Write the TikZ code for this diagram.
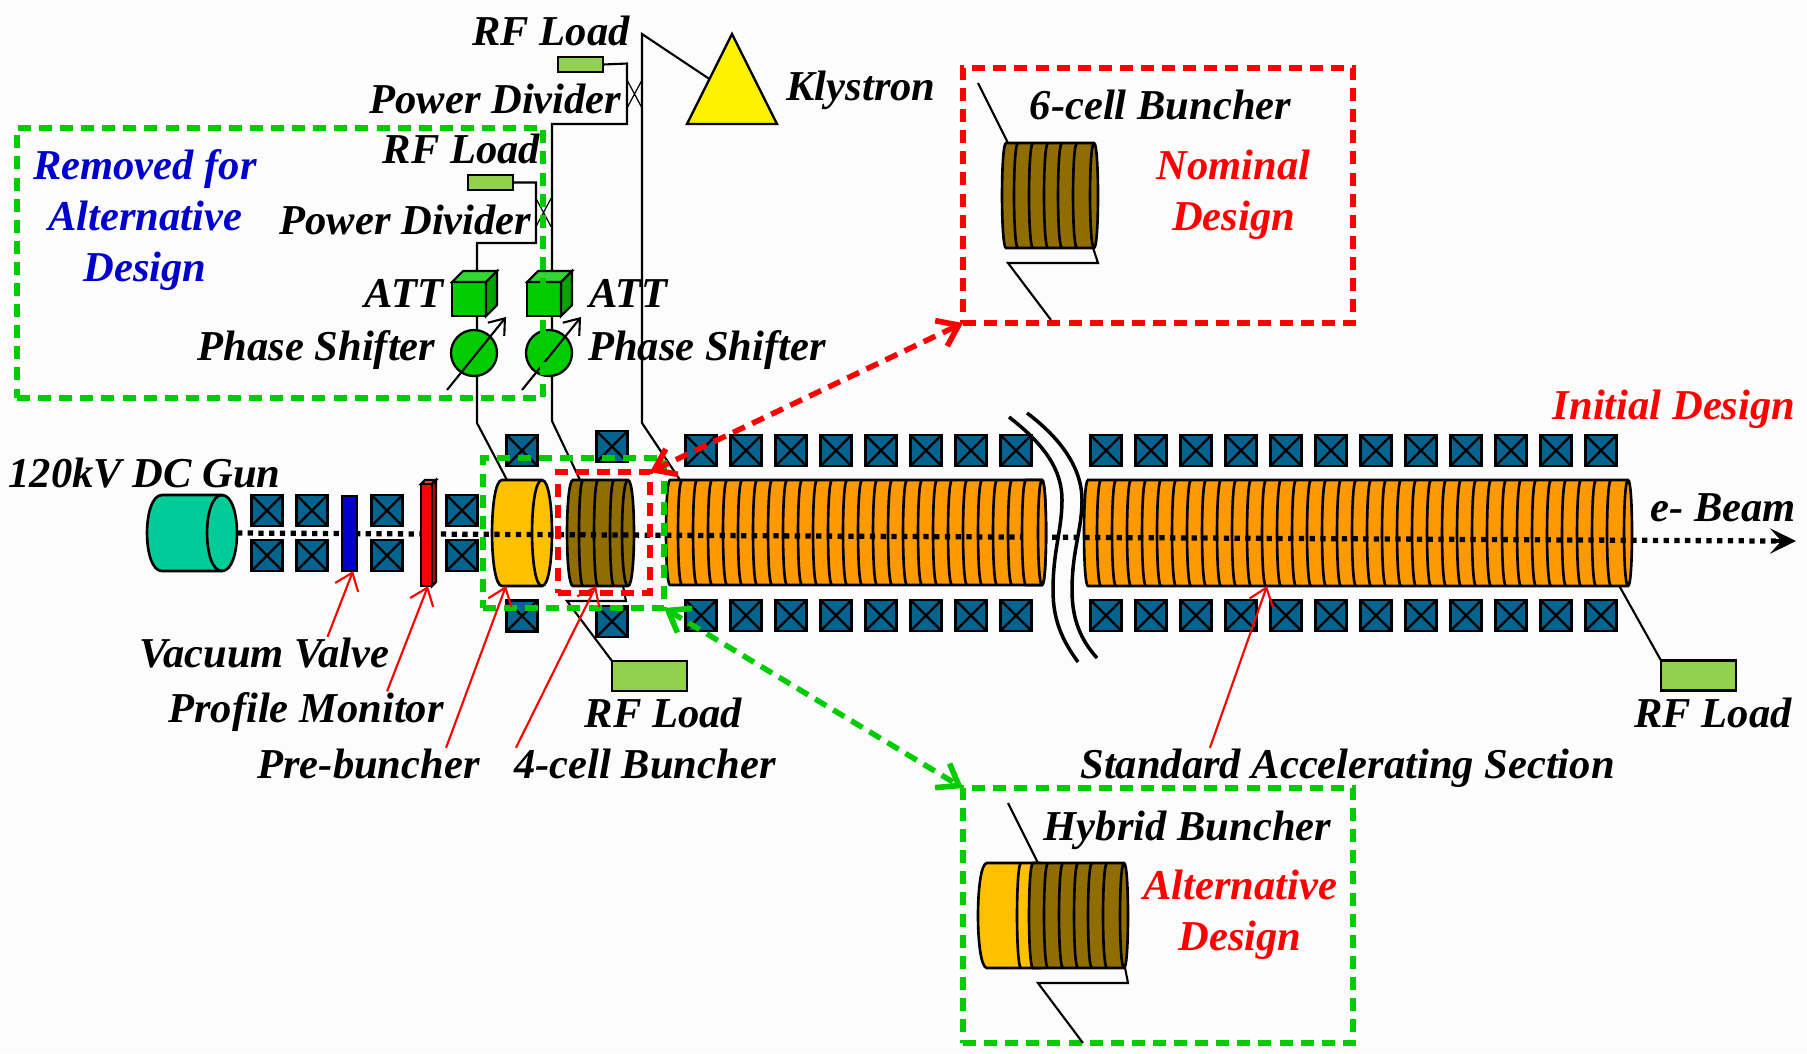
\documentclass[tikz,border=0pt]{standalone}
\usepackage{fontspec}
\setmainfont{Liberation Serif}
\usepackage{xcolor}
\usepackage{tikz}
\usetikzlibrary{arrows.meta}
\usetikzlibrary{backgrounds, fit}
\usetikzlibrary{shapes.geometric, shapes.misc}

\definecolor{paper}{HTML}{FCFCFC}
\definecolor{magnetblue}{HTML}{05648F}
\definecolor{gunteal}{HTML}{00CC99}
\definecolor{pregold}{HTML}{FFC000}
\definecolor{cellbrown}{HTML}{8F6D00}
\definecolor{accorange}{HTML}{FF9900}
\definecolor{loadgreen}{HTML}{92D050}
\definecolor{attgreen}{HTML}{00CC00}
\definecolor{atttop}{HTML}{33D633}
\definecolor{attside}{HTML}{00A300}
\definecolor{valveblue}{HTML}{0000CC}

% name, left, right, top, bottom, bulge, colour
\newcommand{\tube}[7]{
	\node[inner sep=0pt, outer sep=0pt, minimum width={(#3-#2)*0.01cm}, minimum height={(#5-#4)*0.01cm}] (#1) at ({(#2+#3)/2},{(#4+#5)/2}) {};
	\draw[cellline, fill=#7] ({#2+#6},#4) -- ({#3-#6},#4) .. controls ({#3+.33*#6},#4) and ({#3+.33*#6},#5) .. ({#3-#6},#5) -- ({#2+#6},#5) .. controls ({#2-.33*#6},#5) and ({#2-.33*#6},#4) .. ({#2+#6},#4) -- cycle;
	\draw[cellline] ({#3-#6},#4) .. controls ({#3-2.33*#6},#4) and ({#3-2.33*#6},#5) .. ({#3-#6},#5);
}
% positions, bulge, top, bottom
\newcommand{\cells}[4]{
	\foreach \x in {#1} \draw[cellline] (\x,#3) .. controls ({\x-1.33*#2},#3) and ({\x-1.33*#2},#4) .. (\x,#4);
}
% name, position
\newcommand{\attcube}[2]{
	\node[attbox] (#1) at (#2) {};
	\draw[wire, fill=atttop] (#1.north west) -- ++(11,-11) -- ++(34,0) -- (#1.north east) -- cycle;
	\draw[wire, fill=attside] (#1.north east) -- ++(11,-11) -- ++(0,34) -- (#1.south east) -- cycle;
}

\begin{document}
\begin{tikzpicture}[x=0.01cm, y=-0.01cm,
		wire/.style={line width=.6pt},
		thinwire/.style={line width=.35pt},
		cellline/.style={line width=.75pt},
		magnet/.style={draw, fill=magnetblue, line width=.65pt, minimum size=.31cm, inner sep=0pt, outer sep=0pt,
			path picture={
				\draw[line width=.65pt] (path picture bounding box.north west) -- (path picture bounding box.south east);
				\draw[line width=.65pt] (path picture bounding box.north east) -- (path picture bounding box.south west);
			}
		},
		rfload/.style={draw, fill=loadgreen, line width=.65pt, minimum width=.75cm, minimum height=.3cm, inner sep=0pt, outer sep=0pt},
		smallload/.style={rfload, minimum width=.45cm, minimum height=.15cm},
		attbox/.style={draw, fill=attgreen, line width=.65pt, minimum size=.34cm, inner sep=0pt, outer sep=0pt},
		phase/.style={draw, circle, fill=attgreen, line width=.65pt, minimum size=.46cm, inner sep=0pt},
		divider/.style={draw, cross out, thinwire, minimum width=.15cm, minimum height=.28cm, inner sep=0pt, outer sep=0pt},
		dashbox/.style={draw=#1, dash pattern=on 3.7pt off 2.3pt, line width=1.55pt, inner sep=0pt, outer sep=0pt},
		selarrow/.style={draw=#1, dash pattern=on 3.7pt off 2.3pt, line width=1.55pt, {Straight Barb[length=5.5pt,width=8pt,line width=1.6pt]}-{Straight Barb[length=5.5pt,width=8pt,line width=1.6pt]}},
		pointer/.style={red, line width=.6pt, -{Straight Barb[length=4.5pt,width=7pt]}},
		tuner/.style={line width=.6pt, -{Straight Barb[length=4pt,width=6pt]}},
		lbl/.style={font=\fontsize{12.1}{14.4}\selectfont\bfseries\itshape, inner sep=0pt, anchor=base, align=center}
	]
	
	\path[use as bounding box] (0,0) rectangle (1807,1053);
	\begin{scope}[on background layer]
		\fill[paper] (0,0) rectangle (1807,1053);
	\end{scope}
	
	%gun and cavities
	\tube{gun}{147}{237}{495}{571}{15}{gunteal}
	\tube{pre}{492}{552}{480}{586}{10}{pregold}
	\tube{buncher}{567}{634}{480}{586}{6}{cellbrown}
	\cells{583,598,614}{4}{480}{586}
	\tube{acca}{666}{1046}{480}{585}{4}{accorange}
	\cells{682,697,...,1027}{4}{480}{585}
	\tube{accb}{1084}{1632}{480}{586}{4}{accorange}
	\cells{1101,1116,...,1612}{4}{480}{586}
	
	%magnets
	\node[magnet] (mga) at (267,510.5) {};
	\node[magnet] (mgb) at (312,510.5) {};
	\node[magnet] (mgc) at (387,510.5) {};
	\node[magnet] (mgd) at (462,510.5) {};
	\node[magnet] (mge) at (267,555.5) {};
	\node[magnet] (mgf) at (312,555.5) {};
	\node[magnet] (mgg) at (387,555.5) {};
	\node[magnet] (mgh) at (462,555.5) {};
	\node[magnet] (mgi) at (522,450.5) {};
	\node[magnet] (mgj) at (612,446.5) {};
	\node[magnet] (mgk) at (522,616) {};
	\node[magnet] (mgl) at (612,621.5) {};
	\foreach \i in {0,...,7} {
		\node[magnet] (mgta\i) at ({701+45*\i},450.5) {};
		\node[magnet] (mgba\i) at ({701+45*\i},615.5) {};
	}
	\foreach \i in {0,...,11} {
		\node[magnet] (mgtb\i) at ({1106+45*\i},450.5) {};
		\node[magnet] (mgbb\i) at ({1106+45*\i},615.5) {};
	}
	
	%beam
	\coordinate (beamend) at (1796,541);
	\draw[line width=1.5pt, dash pattern=on 1.5pt off 1.55pt] (gun.east) -- ([xshift=-.2cm]beamend);
	\draw[line width=1pt, -{Stealth[length=7.4pt,width=7.2pt,inset=3.2pt]}] ([xshift=-.25cm]beamend) -- (beamend);
	\tube{acclast}{1022}{1046}{480}{585}{4}{accorange}
	
	%valve and monitor
	\node[draw, fill=valveblue, line width=.65pt, minimum width=.15cm, minimum height=.75cm, inner sep=0pt, outer sep=0pt] (valve) at (349.5,533.5) {};
	\draw[line width=.65pt, fill=red!70!white] (421,484) -- ++(4,-4) -- ++(11,0) -- (432,484) -- cycle;
	\draw[line width=.65pt, fill=red!85!black] (432,484) -- ++(4,-4) -- ++(0,102) -- (432,586) -- cycle;
	\node[draw, fill=red, line width=.65pt, minimum width=.11cm, minimum height=1.02cm, inner sep=0pt, outer sep=0pt] (monitor) at (426.5,535) {};
	
	%break in the line
	\draw[line width=1pt] (1009,417) .. controls (1045,445) and (1062,470) .. (1062,500) .. controls (1062,530) and (1053,550) .. (1053,590) .. controls (1053,620) and (1062,640) .. (1078,662);
	\draw[line width=1pt] (1027,413) .. controls (1063,440) and (1082,470) .. (1082,500) .. controls (1082,530) and (1072,550) .. (1072,590) .. controls (1072,620) and (1081,640) .. (1097,658);
	
	%rf network
	\node[draw, isosceles triangle, isosceles triangle stretches, shape border rotate=90, fill=yellow, line width=.65pt, minimum width=.9cm, minimum height=.9cm, inner sep=0pt, outer sep=0pt, anchor=apex] (klystron) at (732,34) {};
	\node[smallload] (loadtop) at (580.5,64.5) {};
	\node[smallload] (loadmid) at (490.5,182.5) {};
	\node[divider] (pdtop) at (634.5,94) {};
	\node[divider] (pdmid) at (543.5,212.5) {};
	\attcube{attl}{469,299}
	\attcube{attr}{544,299}
	\node[phase] (psl) at (474,353) {};
	\node[phase] (psr) at (549,353) {};
	\draw[tuner] ([shift={(-27,37)}]psl.center) -- ([shift={(32,-36)}]psl.center);
	\draw[tuner] ([shift={(-27,37)}]psr.center) -- ([shift={(32,-36)}]psr.center);
	\node[rfload] (loadbun) at (649.5,676) {};
	\node[rfload] (loadend) at (1698.5,675.5) {};
	
	\coordinate (feedtop) at (642,34);
	\coordinate (feedbend) at (642,423);
	\coordinate (topa) at (627,63.5);
	\coordinate (topb) at (627,124);
	\coordinate (topc) at (552,124);
	\coordinate (topd) at (552,421);
	\coordinate (mida) at (536,182.5);
	\coordinate (midb) at (536,243);
	\coordinate (midc) at (477,243);
	\coordinate (midd) at (477,423);
	\coordinate (buna) at (626,601);
	\coordinate (bunb) at (567,601);
	
	\begin{scope}[on background layer]
		\draw[wire] (klystron.left side) -- (feedtop) -- (feedbend) -- ([xshift=.14cm]acca.north west);
		\draw[wire] (loadtop.east) -- (topa) -- (topb) -- (topc) -- (topd) -- ([xshift=.13cm]buncher.north west);
		\draw[wire] (loadmid.east) -- (mida) -- (midb) -- (midc) -- (midd) -- ([xshift=.15cm]pre.north west);
		\draw[wire] ([xshift=.56cm]buncher.south west) -- (buna) -- (bunb) -- (loadbun.north west);
		\draw[wire] ([xshift=5.35cm]accb.south west) -- (loadend.north west);
	\end{scope}
	
	%selection boxes
	\node[dashbox=attgreen, fit={(483,458) (664,608)}] (selgreen) {};
	\node[dashbox=red, fit={(558,472) (650,593)}] (selred) {};
	\node[dashbox=attgreen, fit={(17,128) (543,398)}] (removed) {};
	\node[dashbox=red, fit={(963,68) (1353,323)}] (nominal) {};
	\node[dashbox=attgreen, fit={(963,788) (1353,1043)}] (hybrid) {};
	\draw[selarrow=red] (selred.north east) -- (nominal.south west);
	\draw[selarrow=attgreen] (selgreen.south east) -- (hybrid.north west);
	
	%6-cell buncher
	\tube{nomcav}{1002}{1098}{143}{248}{4}{cellbrown}
	\cells{1018,1033,1048,1062,1077}{4}{143}{248}
	\coordinate (noma) at (978,83);
	\coordinate (nomb) at (1098,263);
	\coordinate (nomc) at (1008,263);
	\coordinate (nomd) at (1051,320);
	\draw[wire] (noma) -- ([xshift=.06cm]nomcav.north west);
	\draw[wire] ([xshift=.91cm]nomcav.south west) -- (nomb) -- (nomc) -- (nomd);
	
	%hybrid buncher
	\draw[cellline, fill=pregold] (987,863) -- (1040,863) -- (1040,968) -- (987,968) .. controls (975,968) and (975,863) .. (987,863) -- cycle;
	\cells{1021}{4}{863}{968}
	\tube{hybcav}{1029}{1128}{863}{968}{4}{cellbrown}
	\cells{1048,1063,1078,1092,1107}{4}{863}{968}
	\coordinate (hyba) at (1008,803);
	\coordinate (hybb) at (1128,983);
	\coordinate (hybc) at (1038,983);
	\coordinate (hybd) at (1083,1043);
	\draw[wire] (hyba) -- ([xshift=.09cm]hybcav.north west);
	\draw[wire] ([xshift=.96cm]hybcav.south west) -- (hybb) -- (hybc) -- (hybd);
	
	%labels
	\node[lbl] (lblgun) at (144.5,487) {120kV DC Gun};
	\node[lbl] (lblload) at (551,45) {RF Load};
	\node[lbl] (lbldiv) at (495.5,113) {Power Divider};
	\node[lbl] (lblloadb) at (461.5,163) {RF Load};
	\node[lbl] (lbldivb) at (405.5,234) {Power Divider};
	\node[lbl] (lblklys) at (861,100) {Klystron};
	\node[lbl] (lblattl) at (404,307) {ATT};
	\node[lbl] (lblattr) at (628,307) {ATT};
	\node[lbl] (lblpsl) at (316.5,360) {Phase Shifter};
	\node[lbl] (lblpsr) at (707,360) {Phase Shifter};
	\node[lbl] (lblsix) at (1160.5,119) {6-cell Buncher};
	\node[lbl] (lblhyb) at (1187.5,840) {Hybrid Buncher};
	\node[lbl] (lblbeam) at (1723,521) {e- Beam};
	\node[lbl] (lblbunload) at (663.5,727) {RF Load};
	\node[lbl] (lblendload) at (1713,727) {RF Load};
	\node[lbl] (lblvalve) at (264.5,667) {Vacuum Valve};
	\node[lbl] (lblprofile) at (306,722) {Profile Monitor};
	\node[lbl] (lblpre) at (368.5,778) {Pre-buncher};
	\node[lbl] (lblfour) at (645,778) {4-cell Buncher};
	\node[lbl] (lblstd) at (1347.5,778) {Standard Accelerating Section};
	\node[lbl, text=red] (lblinit) at (1674,419) {Initial Design};
	\node[lbl, text=red] (lblnom) at (1233.5,230) {Nominal\\Design};
	\node[lbl, text=red] (lblalt) at (1240,950) {Alternative\\Design};
	\node[lbl, text=valveblue] (lblrem) at (145,281) {Removed for\\Alternative\\Design};
	
	%pointers
	\draw[pointer] ([xshift=.63cm]lblvalve.north) -- ([xshift=.035cm]valve.south);
	\draw[pointer] ([xshift=.81cm]lblprofile.north) -- ([xshift=.015cm]monitor.south);
	\draw[pointer] ([xshift=.775cm]lblpre.north) -- ([xshift=-.16cm]pre.south);
	\draw[pointer] ([xshift=-1.29cm]lblfour.north) -- ([xshift=-.045cm]buncher.south);
	\draw[pointer] ([xshift=-1.375cm]lblstd.north) -- ([xshift=-.91cm]accb.south);
\end{tikzpicture}
\end{document}
